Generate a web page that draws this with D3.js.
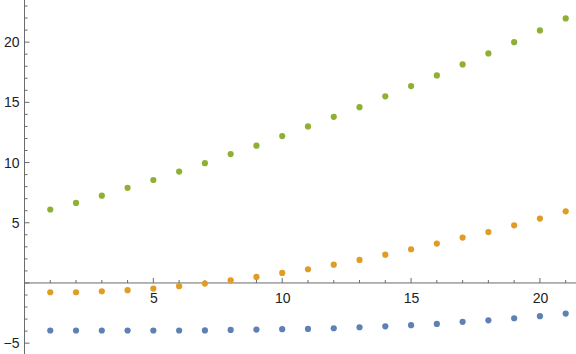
<!DOCTYPE html>
<html>
<head>
<meta charset="utf-8">
<script src="https://cdn.jsdelivr.net/npm/d3@7"></script>
<style>
  body { margin: 0; background: #fff; }
  .tick text { font-family: "Liberation Sans", Arial, sans-serif; font-size: 14px; fill: #222; }
</style>
</head>
<body>
<div id="chart"></div>
<script>
const xs = d3.range(1, 22);
const blue = [-3.95, -3.95, -3.95, -3.95, -3.95, -3.95, -3.94, -3.9, -3.87, -3.84, -3.82,
  -3.76, -3.68, -3.6, -3.51, -3.4, -3.23, -3.1, -2.93, -2.76, -2.54];
const orange = [-0.77, -0.77, -0.69, -0.6, -0.47, -0.27, -0.05, 0.22, 0.5, 0.83, 1.14,
  1.52, 1.91, 2.35, 2.8, 3.27, 3.77, 4.23, 4.79, 5.35, 5.95];
const green = [6.1, 6.65, 7.25, 7.9, 8.55, 9.25, 9.95, 10.7, 11.4, 12.2, 13.0,
  13.8, 14.6, 15.5, 16.35, 17.24, 18.15, 19.06, 20.0, 20.97, 21.97];
const xMajor = [5, 10, 15, 20];
const yMajor = [-5, 0, 5, 10, 15, 20];

const series = [
  {values: blue, color: '#5E81B5'},
  {values: orange, color: '#E19C24'},
  {values: green, color: '#8FB032'}
];

const width = 576, height = 354;

// scales fit to the picture's pixel layout
const xScale = d3.scaleLinear().domain([0, 21.4]).range([24.5, 576]);
const yScale = d3.scaleLinear().domain([-5.9, 23.5]).range([354, 0]);

const svg = d3.select('#chart').append('svg')
    .attr('width', width)
    .attr('height', height);

const axisColor = '#6b6b6b';

// x axis, crossing at y = 0
const xMinor = d3.range(1, 22).filter(d => !xMajor.includes(d));
const xAxisG = svg.append('g')
    .attr('transform', `translate(0, ${yScale(0)})`);
xAxisG.call(d3.axisBottom(xScale).tickValues(xMajor).tickSize(0).tickPadding(10).tickFormat(d3.format('d')))
    .call(g => g.select('.domain').remove());
xAxisG.append('line')
    .attr('x1', xScale.range()[0]).attr('x2', width)
    .attr('stroke', axisColor);
xAxisG.selectAll('.maj').data(xMajor).join('line')
    .attr('x1', d => xScale(d)).attr('x2', d => xScale(d))
    .attr('y1', 0).attr('y2', -5)
    .attr('stroke', axisColor);
xAxisG.selectAll('.min').data(xMinor).join('line')
    .attr('x1', d => xScale(d)).attr('x2', d => xScale(d))
    .attr('y1', 0).attr('y2', -3)
    .attr('stroke', axisColor);

// y axis at x = 0
const yMinor = d3.range(-5, 24).filter(d => !yMajor.includes(d));
const yAxisG = svg.append('g')
    .attr('transform', `translate(${xScale(0)}, 0)`);
yAxisG.call(d3.axisLeft(yScale).tickValues(yMajor.filter(d => d !== 0)).tickSize(0).tickPadding(5))
    .call(g => g.select('.domain').remove());
yAxisG.selectAll('.tick text').text(d => d < 0 ? '\u2212' + Math.abs(d) : d);
yAxisG.append('line')
    .attr('y1', 0).attr('y2', height)
    .attr('stroke', axisColor);
yAxisG.selectAll('.maj').data(yMajor).join('line')
    .attr('x1', 0).attr('x2', 5)
    .attr('y1', d => yScale(d)).attr('y2', d => yScale(d))
    .attr('stroke', axisColor);
yAxisG.selectAll('.min').data(yMinor).join('line')
    .attr('x1', 0).attr('x2', 3)
    .attr('y1', d => yScale(d)).attr('y2', d => yScale(d))
    .attr('stroke', axisColor);

// points
series.forEach(s => {
  svg.append('g').selectAll('circle')
    .data(s.values)
    .join('circle')
      .attr('cx', (d, i) => xScale(xs[i]))
      .attr('cy', d => yScale(d))
      .attr('r', 3.1)
      .attr('fill', s.color);
});
</script>
</body>
</html>
